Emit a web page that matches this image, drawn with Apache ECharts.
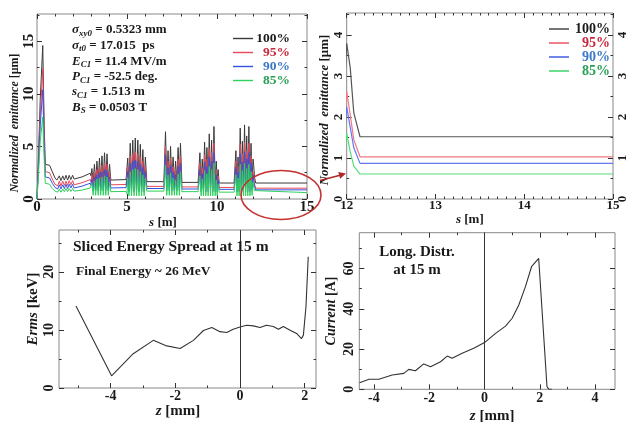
<!DOCTYPE html>
<html><head><meta charset="utf-8">
<script src="https://cdn.jsdelivr.net/npm/echarts@6/dist/echarts.min.js"></script>
<style>html,body{margin:0;padding:0;background:#fff}#c{width:627px;height:422px}</style>
</head><body><div id="c"></div>
<script>
// ---------- data ----------
const seriesNames = ['100%', '95%', '90%', '85%'];
// s positions [m] shared by the four emittance curves
const sPos = [0,0.08,0.18,0.32,0.40,0.46,0.70,0.85,1.00,1.10,
 1.15,1.24,1.33,1.43,1.52,1.61,1.70,1.79,1.88,1.98,2.06,
 2.50,2.96,
 3.00,3.05,3.12,3.19,3.26,3.33,3.40,3.47,3.54,3.61,3.68,3.75,3.82,3.89,3.96,4.03,4.10,4.95,
 5.00,5.04,5.11,5.18,5.25,5.32,5.39,5.46,5.53,5.60,5.67,5.74,5.81,5.88,5.95,6.02,6.10,7.05,
 7.10,7.14,7.21,7.28,7.35,7.42,7.49,7.56,7.63,7.70,7.77,7.84,7.91,7.97,8.05,8.95,
 9.00,9.05,9.12,9.18,9.25,9.31,9.38,9.44,9.51,9.57,9.64,9.70,9.77,9.83,9.90,9.96,10.01,10.06,10.12,10.95,
 11.00,11.05,11.11,11.17,11.23,11.29,11.35,11.41,11.47,11.53,11.59,11.65,11.71,11.77,11.83,11.89,11.95,12.00,12.04,12.08,12.15,15.00];
const emit100 = [0,4.0,9.5,14.6,7.0,3.3,3.2,2.6,2.0,1.8,
 1.75,2.2,1.75,2.2,1.8,2.25,1.8,2.25,1.85,2.25,1.9,
 2.1,2.45,
 2.2,2.9,1.6,3.3,1.6,3.6,1.6,3.9,1.6,4.1,1.6,4.4,1.6,4.3,1.6,3.3,1.8,1.85,
 1.7,3.9,1.5,5.3,1.5,5.6,1.5,5.8,1.5,5.6,1.5,5.2,1.5,4.7,1.5,4.0,1.65,1.65,
 1.7,6.4,1.6,4.6,1.6,5.0,1.6,4.0,1.6,3.6,1.6,4.9,1.6,5.3,1.58,1.58,
 1.6,4.4,1.5,3.8,1.5,5.4,1.5,4.9,1.5,6.2,1.5,5.6,1.5,6.9,1.5,3.6,1.5,2.8,1.52,1.52,
 1.55,4.6,1.5,4.0,1.5,6.75,1.5,5.5,1.5,7.05,1.5,6.0,1.5,6.9,1.5,5.3,1.6,3.8,3.2,2.1,1.52,1.52];
const emit95 = [0,3.4,8.0,12.4,5.8,2.6,2.5,1.9,1.4,1.3,
 1.25,1.7,1.25,1.7,1.3,1.7,1.3,1.75,1.35,1.75,1.35,
 1.55,1.85,
 1.6,2.3,1.1,2.6,1.1,2.8,1.1,3.0,1.1,3.2,1.1,3.4,1.1,3.3,1.1,2.6,1.35,1.38,
 1.2,3.1,1.0,4.1,1.0,4.3,1.0,4.5,1.0,4.3,1.0,4.0,1.0,3.6,1.0,3.1,1.2,1.2,
 1.3,5.0,1.1,3.6,1.1,3.9,1.1,3.1,1.1,2.8,1.1,3.8,1.1,4.1,1.15,1.15,
 1.2,3.4,1.0,2.9,1.0,4.2,1.0,3.8,1.0,4.8,1.0,4.4,1.0,5.3,1.0,2.8,1.0,2.2,1.1,1.1,
 1.18,3.6,1.0,3.1,1.0,5.2,1.0,4.3,1.0,5.4,1.0,4.6,1.0,5.3,1.0,4.1,1.1,2.62,2.05,1.45,1.03,1.03];
const emit90 = [0,2.9,7.0,10.4,4.9,2.1,2.0,1.5,1.1,1.0,
 0.95,1.35,0.95,1.35,1.0,1.4,1.0,1.4,1.05,1.4,1.05,
 1.22,1.5,
 1.3,1.9,0.8,2.1,0.8,2.3,0.8,2.5,0.8,2.6,0.8,2.8,0.8,2.7,0.8,2.1,1.05,1.08,
 0.9,2.6,0.7,3.4,0.7,3.6,0.7,3.7,0.7,3.6,0.7,3.3,0.7,3.0,0.7,2.6,1.0,1.0,
 1.1,4.2,0.8,3.0,0.8,3.2,0.8,2.6,0.8,2.3,0.8,3.1,0.8,3.4,0.95,0.95,
 1.0,2.8,0.7,2.4,0.7,3.5,0.7,3.1,0.7,4.0,0.7,3.6,0.7,4.4,0.7,2.3,0.7,1.8,0.92,0.92,
 0.98,3.0,0.7,2.6,0.7,4.3,0.7,3.5,0.7,4.5,0.7,3.8,0.7,4.4,0.7,3.4,0.8,2.25,1.75,1.25,0.87,0.87];
const emit85 = [0,2.3,5.5,7.8,3.8,1.5,1.4,1.0,0.75,0.7,
 0.65,0.95,0.65,0.95,0.7,1.0,0.7,1.0,0.72,1.0,0.75,
 0.85,1.05,
 0.9,1.5,0.35,1.7,0.35,1.9,0.35,2.0,0.35,2.1,0.35,2.2,0.35,2.1,0.35,1.6,0.7,0.72,
 0.5,2.0,0.3,2.6,0.3,2.8,0.3,2.9,0.3,2.8,0.3,2.6,0.3,2.3,0.3,2.0,0.75,0.75,
 0.9,3.2,0.35,2.3,0.35,2.5,0.35,2.0,0.35,1.8,0.35,2.4,0.35,2.6,0.7,0.7,
 0.7,2.2,0.3,1.9,0.3,2.7,0.3,2.4,0.3,3.1,0.3,2.8,0.3,3.4,0.3,1.8,0.3,1.4,0.65,0.65,
 0.66,2.3,0.3,2.0,0.3,3.3,0.3,2.7,0.3,3.4,0.3,2.9,0.3,3.3,0.3,2.6,0.35,1.6,1.15,0.8,0.61,0.61];

// sliced energy spread at 15 m
const zErms = [-5.07,-3.97,-3.3,-2.68,-2.3,-1.85,-1.44,-1.13,-0.87,-0.62,-0.41,-0.21,0,0.21,0.41,0.62,0.82,1.03,1.19,1.34,1.55,1.75,1.9,1.96,2.04,2.11];
const erms  = [14.1,2.1,5.9,8.2,7.3,6.8,8.2,9.9,10.4,9.7,9.55,10.1,10.5,10.8,10.7,10.4,10.8,10.6,10.1,10.6,9.95,9.4,8.5,9.1,14,22.6];

// longitudinal distribution at 15 m
const zCur = [-4.52,-4.18,-3.82,-3.34,-2.92,-2.74,-2.5,-2.2,-1.95,-1.59,-1.35,-1.17,-0.81,-0.39,0,0.4,0.76,1.0,1.24,1.48,1.7,1.96,2.02,2.26,2.33,2.44];
const current = [3.3,5.0,5.0,7.1,7.9,9.9,9.2,12.6,11.2,13.7,16.5,15.4,17.9,20.4,23.2,27.8,31.4,35.3,41.9,51,60.9,65,64.2,1.3,0,0];

// tick values
const ticksS1 = [0, 5, 10, 15];
const minorS1 = [1,2,3,4,6,7,8,9,11,12,13,14];
const ticksE1 = [0, 5, 10, 15];
const minorE1 = [2.5, 7.5, 12.5, 17.5];
const ticksS2 = [12, 13, 14, 15];
const ticksE2 = [0, 1, 2, 3, 4];
const minorE2 = [0.5, 1.5, 2.5, 3.5, 4.5];
const ticksZ3 = [-4, -2, 0, 2];
const minorZ3 = [-5, -3, -1, 1];
const ticksErms = [0, 10, 20];
const minorErms = [5, 15, 25];
const ticksZ4 = [-4, -2, 0, 2, 4];
const minorZ4 = [-3, -1, 1, 3];
const ticksCur = [0, 20, 40, 60];
const minorCur = [10, 30, 50, 70];

// ---------- styling ----------
const SERIF = '"Liberation Serif", "Times New Roman", serif';
const TICK = '#333';
const lineColors1 = ['#3a3a3a', '#e8485a', '#3352e0', '#2fd05c'];
const lineColors2 = ['#555555', '#f07880', '#6478ee', '#55dc78'];
const legendColors = ['#1a1a1a', '#c8283c', '#3a78c8', '#2aa055'];

function minorSteps(a, b, step) { const r = []; for (let v = a; v <= b + 1e-9; v += step) r.push(Math.round(v * 1000) / 1000); return r; }
const minorS2 = minorSteps(12, 15, 0.1);

const xAxes = [], yAxes = [];
function addAxes(list, dim, gi, min, max, majors, minors, main, opp) {
  const pos = dim === 'x' ? ['bottom', 'top'] : ['left', 'right'];
  const base = { type: 'value', gridIndex: gi, min: min, max: max, splitLine: { show: false },
    axisLine: { show: false, onZero: false } };
  const idx = list.length;
  list.push(Object.assign({}, base, {
    position: pos[0],
    axisTick: { show: true, inside: true, length: 5, customValues: majors, lineStyle: { color: TICK } },
    axisLabel: Object.assign({ show: true, customValues: majors, color: '#1a1a1a', fontFamily: SERIF, fontWeight: 'bold' }, main.label),
  }, main.name || {}));
  list.push(Object.assign({}, base, { position: pos[0],
    axisTick: { show: true, inside: true, length: 2.5, customValues: minors, lineStyle: { color: TICK } },
    axisLabel: { show: false } }));
  list.push(Object.assign({}, base, { position: pos[1],
    axisTick: { show: true, inside: true, length: 5, customValues: majors, lineStyle: { color: TICK } },
    axisLabel: opp ? Object.assign({ show: true, customValues: majors, color: '#1a1a1a', fontFamily: SERIF, fontWeight: 'bold' }, opp) : { show: false } }));
  list.push(Object.assign({}, base, { position: pos[1],
    axisTick: { show: true, inside: true, length: 2.5, customValues: minors, lineStyle: { color: TICK } },
    axisLabel: { show: false } }));
  return idx;
}
function nameStyle(size, pad) {
  return { fontFamily: SERIF, fontWeight: 'bold', fontSize: size, color: '#1a1a1a', padding: pad,
    rich: { i: { fontFamily: SERIF, fontWeight: 'bold', fontStyle: 'italic', fontSize: size, color: '#1a1a1a' } } };
}

// grid 0 : emittance 0-15 m
const gx0 = addAxes(xAxes, 'x', 0, 0, 15, ticksS1, minorS1,
  { label: { fontSize: 15, margin: 1 },
    name: { name: '{i|s} [m]', nameLocation: 'middle', nameGap: 14, nameTextStyle: nameStyle(13, [0, 18, 0, 0]) } });
const gy0 = addAxes(yAxes, 'y', 0, 0, 17.6, ticksE1, minorE1,
  { label: { fontSize: 15, rotate: 90, margin: 0 },
    name: { name: '{i|Normalized  emittance} [μm]', nameLocation: 'middle', nameGap: 10, nameTextStyle: nameStyle(12, [0, 33, 0, 0]) } });
// grid 1 : zoom 12-15 m
const gx1 = addAxes(xAxes, 'x', 1, 12, 15, ticksS2, minorS2,
  { label: { fontSize: 13, margin: 0 },
    name: { name: '{i|s} [m]', nameLocation: 'middle', nameGap: 5, nameTextStyle: nameStyle(13, [0, 20, 0, 0]) } });
const gy1 = addAxes(yAxes, 'y', 1, 0, 4.54, ticksE2, minorE2,
  { label: { fontSize: 13, rotate: 90, margin: 2 },
    name: { name: '{i|Normalized  emittance} [μm]', nameLocation: 'middle', nameGap: 13, nameTextStyle: nameStyle(13, [0, 8, 0, 0]) } },
  { fontSize: 13, rotate: 90, margin: 3 });
// grid 2 : energy spread
const gx2 = addAxes(xAxes, 'x', 2, -5.595, 2.35, ticksZ3, minorZ3,
  { label: { fontSize: 14, margin: 1 },
    name: { name: '{i|z} [mm]', nameLocation: 'middle', nameGap: 16, nameTextStyle: nameStyle(15, [0, 19, 0, 0]) } });
const gy2 = addAxes(yAxes, 'y', 2, 0, 27.2, ticksErms, minorErms,
  { label: { fontSize: 14, rotate: 90, margin: 3 },
    name: { name: '{i|Erms} [keV]', nameLocation: 'middle', nameGap: 17, nameTextStyle: nameStyle(15, 0) } });
// grid 3 : current
const gx3 = addAxes(xAxes, 'x', 3, -4.53, 4.72, ticksZ4, minorZ4,
  { label: { fontSize: 14, margin: 2 },
    name: { name: '{i|z} [mm]', nameLocation: 'middle', nameGap: 19, nameTextStyle: nameStyle(15, [0, 0, 0, 10]) } });
const gy3 = addAxes(yAxes, 'y', 3, 0, 77.8, ticksCur, minorCur,
  { label: { fontSize: 14, rotate: 90, margin: 3 },
    name: { name: '{i|Current} [A]', nameLocation: 'middle', nameGap: 21, nameTextStyle: nameStyle(14, 0) } });

const emitArrays = [emit100, emit95, emit90, emit85];
const series = [];
emitArrays.forEach((arr, k) => {
  const data = sPos.map((s, i) => [s, arr[i]]);
  series.push({ type: 'line', name: seriesNames[k], xAxisIndex: gx0, yAxisIndex: gy0, data: data,
    showSymbol: false, symbol: 'none', color: lineColors1[k], lineStyle: { width: 1, color: lineColors1[k] }, clip: true, z: 2 + k });
});
emitArrays.forEach((arr, k) => {
  const data = sPos.map((s, i) => [s, arr[i]]);
  series.push({ type: 'line', name: seriesNames[k], xAxisIndex: gx1, yAxisIndex: gy1, data: data,
    showSymbol: false, symbol: 'none', color: lineColors2[k], lineStyle: { width: 1.2, color: lineColors2[k] }, clip: true, z: 2 + k });
});
const zeroLine = { silent: true, symbol: ['none', 'none'], label: { show: false },
  lineStyle: { color: '#333', width: 1, type: 'solid' }, data: [{ xAxis: 0 }] };
series.push({ type: 'line', name: 'Erms', xAxisIndex: gx2, yAxisIndex: gy2, data: zErms.map((z, i) => [z, erms[i]]),
  showSymbol: false, symbol: 'none', lineStyle: { width: 1.1, color: '#333' }, color: '#333', markLine: zeroLine });
series.push({ type: 'line', name: 'Current', xAxisIndex: gx3, yAxisIndex: gy3, data: zCur.map((z, i) => [z, current[i]]),
  showSymbol: false, symbol: 'none', lineStyle: { width: 1.1, color: '#333' }, color: '#333', markLine: zeroLine });

function legendCfg(left, top, lh, fs, w) {
  const rich = {};
  seriesNames.forEach((n, k) => { rich['c' + k] = { color: legendColors[k], fontFamily: SERIF, fontWeight: 'bold', fontSize: fs, width: w, align: 'right', lineHeight: lh }; });
  return { left: left, top: top, orient: 'vertical', icon: 'rect', itemWidth: 20, itemHeight: 1.4, itemGap: 0,
    selectedMode: false, data: seriesNames,
    formatter: (name) => '{c' + seriesNames.indexOf(name) + '|' + name + '}',
    textStyle: { rich: rich } };
}

function annot(y, sym, sub, rest) {
  return { type: 'text', x: 72, y: y, silent: true, style: {
    text: '{i|' + sym + '}{s|' + sub + '}{n|' + rest + '}', verticalAlign: 'middle',
    rich: {
      i: { fontFamily: SERIF, fontWeight: 'bold', fontStyle: 'italic', fontSize: 13, lineHeight: 16, fill: '#1a1a1a', verticalAlign: 'middle' },
      s: { fontFamily: SERIF, fontWeight: 'bold', fontStyle: 'italic', fontSize: 9, lineHeight: 16, fill: '#1a1a1a', verticalAlign: 'bottom' },
      n: { fontFamily: SERIF, fontWeight: 'bold', fontSize: 13, lineHeight: 16, fill: '#1a1a1a', verticalAlign: 'middle' }
    } } };
}

const option = {
  animation: false,
  backgroundColor: '#ffffff',
  grid: [
    { left: 37, top: 14, width: 270, height: 185, show: true, borderColor: '#888', borderWidth: 1, backgroundColor: 'transparent', outerBoundsMode: 'none' },
    { left: 346.7, top: 13, width: 266.3, height: 186, show: true, borderColor: '#888', borderWidth: 1, backgroundColor: 'transparent', outerBoundsMode: 'none' },
    { left: 59, top: 230, width: 257, height: 158, show: true, borderColor: '#888', borderWidth: 1, backgroundColor: 'transparent', outerBoundsMode: 'none' },
    { left: 359.3, top: 232.7, width: 255.7, height: 156.6, show: true, borderColor: '#888', borderWidth: 1, backgroundColor: 'transparent', outerBoundsMode: 'none' }
  ],
  xAxis: xAxes,
  yAxis: yAxes,
  legend: [legendCfg(228, 26.5, 15, 13.5, 32), legendCfg(544, 17, 16, 14, 36)],
  series: series,
  graphic: [
    annot(30, 'σ', 'xy0', ' = 0.5323 mm'),
    annot(45.5, 'σ', 't0', ' = 17.015  ps'),
    annot(61.5, 'E', 'C1', ' = 11.4 MV/m'),
    annot(77, 'P', 'C1', ' = -52.5 deg.'),
    annot(92, 's', 'C1', ' = 1.513 m'),
    annot(107.5, 'B', 'S', ' = 0.0503 T'),
    { type: 'ellipse', silent: true, shape: { cx: 281, cy: 195, rx: 40, ry: 24.5 }, z: 50,
      style: { fill: 'none', stroke: '#c43030', lineWidth: 1.6 } },
    { type: 'line', silent: true, z: 50, shape: { x1: 320, y1: 180.5, x2: 340, y2: 175.2 }, style: { stroke: '#b02828', lineWidth: 1.6 } },
    { type: 'polygon', silent: true, z: 50, shape: { points: [[346, 173.5], [340.1, 178.7], [338.3, 171.9]] }, style: { fill: '#b02828' } },
    { type: 'text', x: 73, y: 246.5, silent: true, z: 50, style: { text: 'Sliced Energy Spread at 15 m', verticalAlign: 'middle',
      fontFamily: SERIF, fontWeight: 'bold', fontSize: 15.5, fill: '#1a1a1a' } },
    { type: 'text', x: 76, y: 271.5, silent: true, z: 50, style: { text: 'Final Energy ~ 26 MeV', verticalAlign: 'middle',
      fontFamily: SERIF, fontWeight: 'bold', fontSize: 13.5, fill: '#1a1a1a' } },
    { type: 'text', x: 417, y: 252, silent: true, z: 50, style: { text: 'Long. Distr.', align: 'center', verticalAlign: 'middle',
      fontFamily: SERIF, fontWeight: 'bold', fontSize: 15, fill: '#1a1a1a' } },
    { type: 'text', x: 417, y: 270.5, silent: true, z: 50, style: { text: 'at 15 m', align: 'center', verticalAlign: 'middle',
      fontFamily: SERIF, fontWeight: 'bold', fontSize: 15, fill: '#1a1a1a' } }
  ]
};
const chart = echarts.init(document.getElementById('c'), null, { renderer: 'canvas', width: 627, height: 422 });
chart.setOption(option);
</script>
</body></html>
